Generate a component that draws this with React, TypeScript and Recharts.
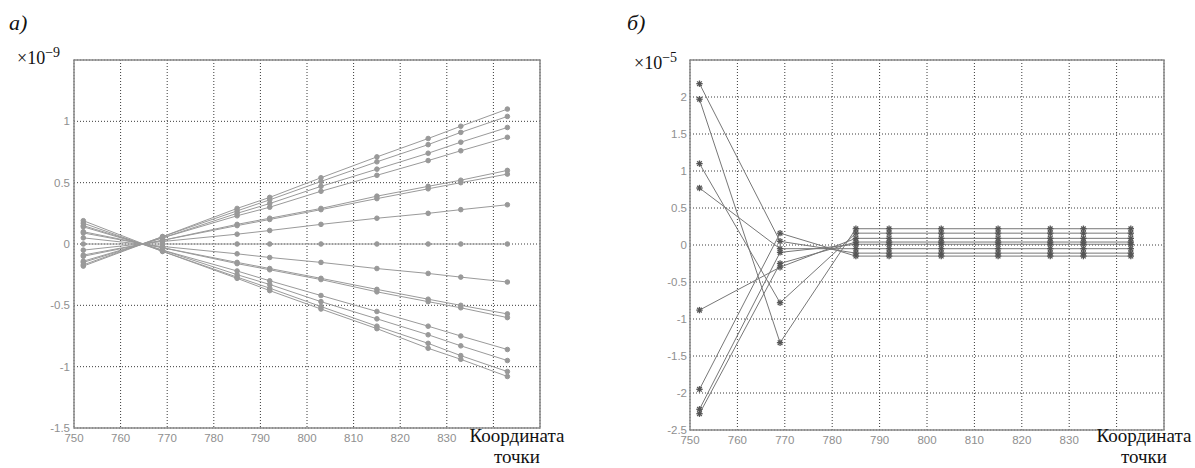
import { JSX } from 'react';
import {
  CartesianGrid,
  Line,
  LineChart,
  ReferenceArea,
  XAxis,
  YAxis,
} from 'recharts';

// shared x positions of the computed points
const xPoints = [752, 769, 785, 792, 803, 815, 826, 833, 843];
const xTicks = [750, 760, 770, 780, 790, 800, 810, 820, 830, 840, 850];

// panel a) values, ×10^-9
const a1 = [-0.18, 0.06, 0.29, 0.38, 0.54, 0.71, 0.86, 0.96, 1.1];
const a2 = [-0.17, 0.06, 0.27, 0.36, 0.51, 0.67, 0.81, 0.91, 1.04];
const a3 = [-0.15, 0.05, 0.25, 0.33, 0.47, 0.61, 0.74, 0.83, 0.95];
const a4 = [-0.14, 0.05, 0.23, 0.3, 0.43, 0.56, 0.68, 0.76, 0.87];
const a5 = [-0.1, 0.03, 0.16, 0.21, 0.29, 0.39, 0.47, 0.52, 0.6];
const a6 = [-0.09, 0.03, 0.15, 0.2, 0.28, 0.37, 0.45, 0.5, 0.57];
const a7 = [-0.05, 0.02, 0.08, 0.11, 0.16, 0.21, 0.25, 0.28, 0.32];
const a8 = [0, 0, 0, 0, 0, 0, 0, 0, 0];
const a9 = [0.05, -0.02, -0.08, -0.11, -0.15, -0.2, -0.24, -0.27, -0.31];
const a10 = [0.09, -0.03, -0.15, -0.2, -0.28, -0.37, -0.45, -0.5, -0.57];
const a11 = [0.1, -0.03, -0.16, -0.21, -0.29, -0.39, -0.47, -0.52, -0.6];
const a12 = [0.14, -0.05, -0.22, -0.3, -0.42, -0.55, -0.67, -0.75, -0.86];
const a13 = [0.15, -0.05, -0.25, -0.33, -0.47, -0.61, -0.74, -0.83, -0.95];
const a14 = [0.17, -0.06, -0.27, -0.36, -0.51, -0.67, -0.81, -0.91, -1.04];
const a15 = [0.19, -0.06, -0.28, -0.38, -0.53, -0.69, -0.85, -0.94, -1.08];
const aTicks = [-1.5, -1, -0.5, 0, 0.5, 1, 1.5];

// panel б) values, ×10^-5
const b1 = [2.18, 0.05, -0.11, -0.11, -0.11, -0.11, -0.11, -0.11, -0.11];
const b2 = [1.97, -1.32, 0.22, 0.22, 0.22, 0.22, 0.22, 0.22, 0.22];
const b3 = [1.1, -0.78, 0.16, 0.16, 0.16, 0.16, 0.16, 0.16, 0.16];
const b4 = [0.77, -0.05, -0.05, -0.05, -0.05, -0.05, -0.05, -0.05, -0.05];
const b5 = [-0.88, -0.3, 0.09, 0.09, 0.09, 0.09, 0.09, 0.09, 0.09];
const b6 = [-1.95, 0.16, -0.15, -0.15, -0.15, -0.15, -0.15, -0.15, -0.15];
const b7 = [-2.22, -0.1, 0.01, 0.01, 0.01, 0.01, 0.01, 0.01, 0.01];
const b8 = [-2.28, -0.25, 0.04, 0.04, 0.04, 0.04, 0.04, 0.04, 0.04];
const bTicks = [-2.5, -2, -1.5, -1, -0.5, 0, 0.5, 1, 1.5, 2, 2.5];

const seriesA: Record<string, number[]> = {
  a1, a2, a3, a4, a5, a6, a7, a8, a9, a10, a11, a12, a13, a14, a15,
};
const seriesB: Record<string, number[]> = { b1, b2, b3, b4, b5, b6, b7, b8 };

const toRows = (series: Record<string, number[]>) =>
  xPoints.map((x, i) => {
    const row: Record<string, number> = { x };
    Object.keys(series).forEach((k) => {
      row[k] = series[k][i];
    });
    return row;
  });

const rowsA = toRows(seriesA);
const rowsB = toRows(seriesB);

const tickStyle = { fontSize: 11.5, fill: '#8f8f8f', fontFamily: 'Liberation Sans, sans-serif' };
const xLabel = (v: number) => (v >= 840 ? '' : String(v));

type DotProps = { cx?: number; cy?: number };

const StarDot = ({ cx, cy }: DotProps): JSX.Element | null => {
  if (cx == null || cy == null) return null;
  const r = 3.2;
  return (
    <g stroke='#555' strokeWidth={1.3}>
      <line x1={cx - r} y1={cy} x2={cx + r} y2={cy} />
      <line x1={cx} y1={cy - r} x2={cx} y2={cy + r} />
      <line x1={cx - 2.3} y1={cy - 2.3} x2={cx + 2.3} y2={cy + 2.3} />
      <line x1={cx - 2.3} y1={cy + 2.3} x2={cx + 2.3} y2={cy - 2.3} />
    </g>
  );
};

const serif = 'Liberation Serif, Times New Roman, serif';

const Scale = ({ exp, left, top }: { exp: string; left: number; top: number }) => (
  <div style={{ position: 'absolute', left, top, fontFamily: serif, fontSize: 18, color: '#111', lineHeight: '20px' }}>
    ×10<sup style={{ fontSize: 14, lineHeight: 0 }}>−{exp}</sup>
  </div>
);

const AxisName = ({ left, top }: { left: number; top: number }) => (
  <div
    style={{
      position: 'absolute',
      left,
      top,
      fontFamily: serif,
      fontSize: 19,
      lineHeight: '21px',
      color: '#111',
      textAlign: 'center',
      width: 100,
    }}
  >
    Координата
    <br />
    точки
  </div>
);

export default function App(): JSX.Element {
  return (
    <div style={{ position: 'absolute', left: 0, top: 0, width: 1195, height: 468, background: '#fff', overflow: 'hidden' }}>
      <div style={{ position: 'absolute', left: 0, top: 0 }}>
        <LineChart width={560} height={468} data={rowsA} margin={{ top: 60, right: 20, bottom: 10, left: 0 }}>
          <CartesianGrid stroke='#3a3a3a' strokeDasharray='1 2' />
          <XAxis
            dataKey='x'
            type='number'
            domain={[750, 850]}
            ticks={xTicks}
            tickFormatter={xLabel}
            axisLine={false}
            tickLine={false}
            tickSize={0}
            tickMargin={6}
            height={30}
            tick={tickStyle}
          />
          <YAxis
            type='number'
            domain={[-1.5, 1.5]}
            ticks={aTicks}
            tickFormatter={(v: number) => (v === 1.5 ? '' : String(v))}
            axisLine={false}
            tickLine={false}
            tickSize={0}
            tickMargin={4}
            width={74}
            tick={tickStyle}
          />
          <ReferenceArea x1={750} x2={850} y1={-1.5} y2={1.5} fill='none' stroke='#8a8a8a' strokeWidth={1.5} />
          {Object.keys(seriesA).map((k) => (
            <Line
              key={k}
              type='linear'
              dataKey={k}
              stroke='#9a9a9a'
              strokeWidth={1}
              dot={{ r: 2.3, fill: '#999', stroke: '#999' }}
              isAnimationActive={false}
            />
          ))}
        </LineChart>
      </div>

      <div style={{ position: 'absolute', left: 600, top: 0 }}>
        <LineChart width={580} height={468} data={rowsB} margin={{ top: 60, right: 16, bottom: 10, left: 0 }}>
          <CartesianGrid stroke='#3a3a3a' strokeDasharray='1 2' />
          <XAxis
            dataKey='x'
            type='number'
            domain={[750, 850]}
            ticks={xTicks}
            tickFormatter={xLabel}
            axisLine={false}
            tickLine={false}
            tickSize={0}
            tickMargin={6}
            height={28}
            tick={tickStyle}
          />
          <YAxis
            type='number'
            domain={[-2.5, 2.5]}
            ticks={bTicks}
            tickFormatter={(v: number) => (v === 2.5 ? '' : String(v))}
            axisLine={false}
            tickLine={false}
            tickSize={0}
            tickMargin={3}
            width={90}
            tick={tickStyle}
          />
          <ReferenceArea x1={750} x2={850} y1={-2.5} y2={2.5} fill='none' stroke='#8a8a8a' strokeWidth={1.5} />
          {Object.keys(seriesB).map((k) => (
            <Line
              key={k}
              type='linear'
              dataKey={k}
              stroke='#777'
              strokeWidth={1}
              dot={<StarDot />}
              isAnimationActive={false}
            />
          ))}
        </LineChart>
      </div>

      <div style={{ position: 'absolute', left: 9, top: 11, fontFamily: serif, fontSize: 22, lineHeight: '24px', fontStyle: 'italic', color: '#111' }}>
        а)
      </div>
      <div style={{ position: 'absolute', left: 627, top: 11, fontFamily: serif, fontSize: 22, lineHeight: '24px', fontStyle: 'italic', color: '#111' }}>
        б)
      </div>
      <Scale exp='9' left={17} top={48} />
      <Scale exp='5' left={634} top={53} />
      <AxisName left={467} top={425} />
      <AxisName left={1094} top={425} />
    </div>
  );
}
